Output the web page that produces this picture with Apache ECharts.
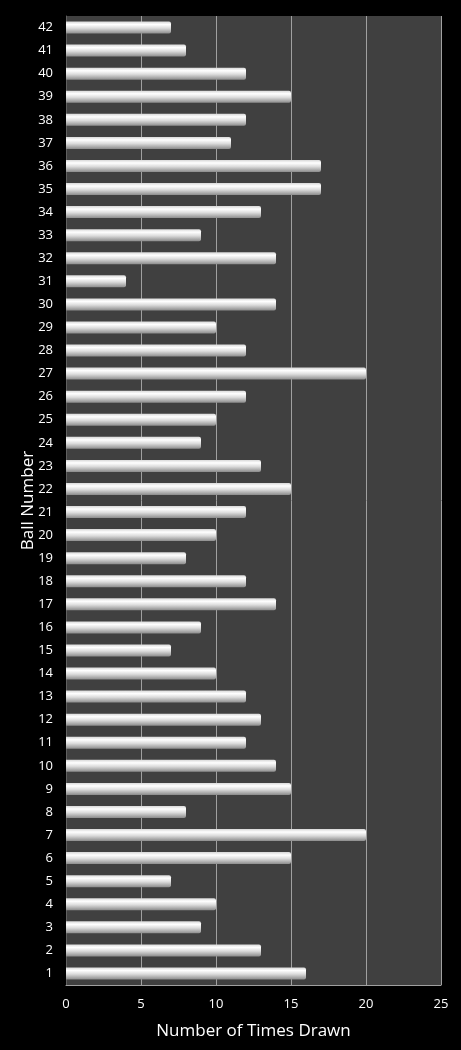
<!DOCTYPE html>
<html>
<head>
<meta charset="utf-8">
<script src="https://cdn.jsdelivr.net/npm/echarts@6/dist/echarts.min.js"></script>
<style>
html,body{margin:0;padding:0;background:#000;}
#chart{width:461px;height:1050px;}
</style>
</head>
<body>
<div id="chart"></div>
<script>
const categories = ["1","2","3","4","5","6","7","8","9","10","11","12","13","14","15","16","17","18","19","20","21","22","23","24","25","26","27","28","29","30","31","32","33","34","35","36","37","38","39","40","41","42"];
const timesDrawn = [16,13,9,10,7,15,20,8,15,14,12,13,12,10,7,9,14,12,8,10,12,15,13,9,10,12,20,12,10,14,4,14,9,13,17,17,11,12,15,12,8,7];
const xTicks = [0,5,10,15,20,25];

const chart = echarts.init(document.getElementById('chart'));
const font = '"Open Sans", "DejaVu Sans", sans-serif';
chart.setOption({
  backgroundColor: '#000000',
  animation: false,
  grid: {left: 66, right: 20, top: 16, bottom: 65, show: true, backgroundColor: '#404040', borderWidth: 0},
  xAxis: {
    type: 'value', min: xTicks[0], max: xTicks[xTicks.length-1], interval: 5,
    name: 'Number of Times Drawn', nameLocation: 'middle', nameGap: 38,
    nameTextStyle: {color: '#ffffff', fontSize: 17, fontFamily: font},
    axisLine: {show: true, lineStyle: {color: '#a0a0a0', width: 1}},
    axisTick: {show: false},
    axisLabel: {color: '#ffffff', fontSize: 13, fontFamily: font, margin: 13},
    splitLine: {show: true, lineStyle: {color: '#a0a0a0', width: 1}}
  },
  yAxis: {
    type: 'category', data: categories,
    name: 'Ball Number', nameLocation: 'middle', nameGap: 29, nameRotate: 90,
    nameMoveOverlap: false,
    nameTextStyle: {color: '#ffffff', fontSize: 17, fontFamily: font},
    axisLine: {show: true, lineStyle: {color: '#606060'}},
    axisTick: {show: false},
    axisLabel: {color: '#ffffff', fontSize: 13, fontFamily: font, margin: 13},
    splitLine: {show: false}
  },
  series: [{
    type: 'bar', data: timesDrawn, barWidth: 12,
    itemStyle: {
      color: new echarts.graphic.LinearGradient(0, 0, 0, 1, [
        {offset: 0, color: '#d8d8d8'},
        {offset: 0.25, color: '#ffffff'},
        {offset: 0.55, color: '#dcdcdc'},
        {offset: 1, color: '#8c8c8c'}
      ]),
      borderRadius: [0, 2, 2, 0]
    }
  }]
});
</script>
</body>
</html>
